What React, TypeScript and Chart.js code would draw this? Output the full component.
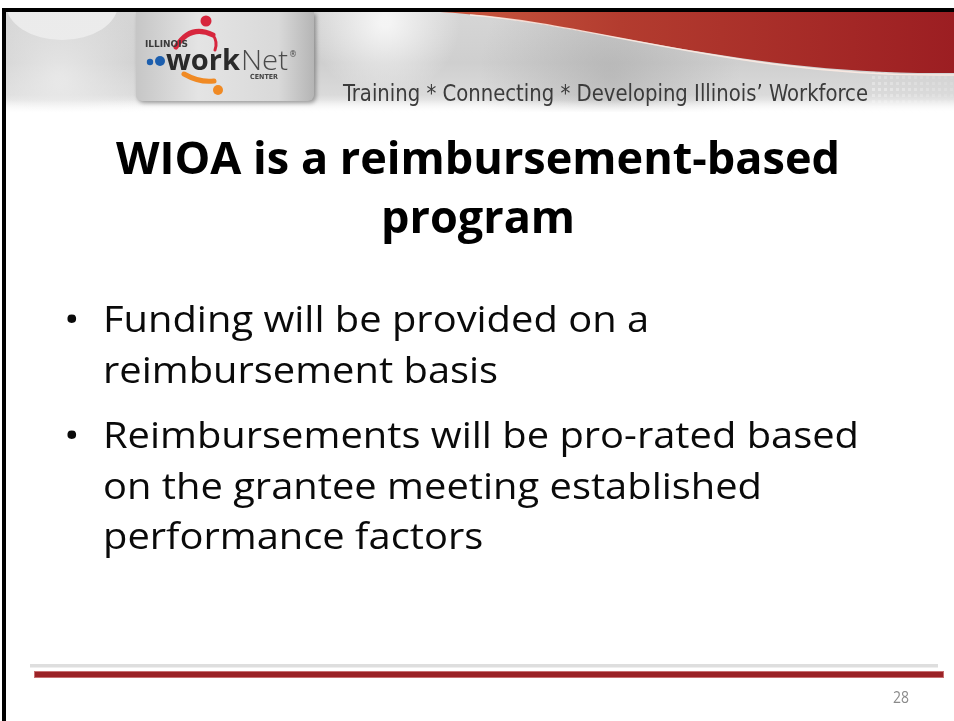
import React, { useEffect, useRef } from "react";
import { Chart, registerables } from "chart.js";

Chart.register(...registerables);

const titleLines = ["WIOA is a reimbursement-based", "program"];
const bulletItems = [
  ["Funding will be provided on a", "reimbursement basis"],
  ["Reimbursements will be pro-rated based", "on the grantee meeting established", "performance factors"],
];
const tagline = "Training * Connecting * Developing Illinois\u2019 Workforce";
const logoWords = ["ILLINOIS", "work", "Net", "CENTER", "\u00AE"];
const pageNumber = "28";

function fitText(ctx: CanvasRenderingContext2D, text: string, x: number, y: number, width: number, align: "left" | "center" = "left") {
  const w = ctx.measureText(text).width;
  const s = width / w;
  ctx.save();
  const x0 = align === "center" ? x - width / 2 : x;
  ctx.translate(x0, y);
  ctx.scale(s, 1);
  ctx.textAlign = "left";
  ctx.fillText(text, 0, 0);
  ctx.restore();
  return s;
}

function drawText(ctx: CanvasRenderingContext2D, text: string, x: number, y: number, s: number, align: "left" | "center" = "left") {
  const w = ctx.measureText(text).width * s;
  ctx.save();
  const x0 = align === "center" ? x - w / 2 : x;
  ctx.translate(x0, y);
  ctx.scale(s, 1);
  ctx.textAlign = "left";
  ctx.fillText(text, 0, 0);
  ctx.restore();
}

const slidePlugin = {
  id: "slide",
  beforeDraw(chart: any) {
    const ctx: CanvasRenderingContext2D = chart.ctx;
    const W = chart.width;
    const H = chart.height;
    ctx.save();
    ctx.fillStyle = "#ffffff";
    ctx.fillRect(0, 0, W, H);

    // header background
    const hx = 5, hy = 12, hw = W - 5, hh = 101;
    let g = ctx.createLinearGradient(0, hy, 0, hy + hh);
    g.addColorStop(0, "#d6d6d6");
    g.addColorStop(0.5, "#cfcfcf");
    g.addColorStop(0.82, "#dadada");
    g.addColorStop(1, "#ffffff");
    ctx.fillStyle = g;
    ctx.fillRect(hx, hy, hw, hh);

    ctx.save();
    ctx.beginPath();
    ctx.rect(hx, hy, hw, hh);
    ctx.clip();
    // light left blob
    ctx.fillStyle = "#ebebeb";
    ctx.beginPath();
    ctx.ellipse(62, 4, 56, 36, 0, 0, Math.PI * 2);
    ctx.fill();
    let rg = ctx.createRadialGradient(60, 80, 5, 60, 80, 90);
    rg.addColorStop(0, "rgba(236,236,236,0.8)");
    rg.addColorStop(1, "rgba(236,236,236,0)");
    ctx.fillStyle = rg;
    ctx.fillRect(hx, hy, 160, 100);
    rg = ctx.createRadialGradient(385, 22, 5, 385, 22, 75);
    rg.addColorStop(0, "rgba(246,246,246,0.95)");
    rg.addColorStop(1, "rgba(246,246,246,0)");
    ctx.fillStyle = rg;
    ctx.fillRect(300, hy, 180, 100);
    rg = ctx.createRadialGradient(610, 75, 5, 610, 75, 130);
    rg.addColorStop(0, "rgba(150,150,150,0.4)");
    rg.addColorStop(1, "rgba(150,150,150,0)");
    ctx.fillStyle = rg;
    ctx.fillRect(470, hy, 280, 100);
    const fade = ctx.createLinearGradient(0, 100, 0, 113);
    fade.addColorStop(0, "rgba(255,255,255,0)");
    fade.addColorStop(1, "rgba(255,255,255,1)");
    ctx.fillStyle = fade;
    ctx.fillRect(hx, 100, hw, 13);

    // dot pattern on right
    for (let yy = 70; yy < 110; yy += 6) {
      for (let xx = 872; xx < 954; xx += 6) {
        const a = 0.4 * (1 - (xx - 872) / 120) * (1 - Math.abs(yy - 88) / 30);
        if (a <= 0) continue;
        ctx.fillStyle = `rgba(255,255,255,${a.toFixed(3)})`;
        ctx.fillRect(xx, yy, 3, 3);
      }
    }

    // red swoosh
    const rgrad = ctx.createLinearGradient(440, 0, W, 0);
    rgrad.addColorStop(0, "#c9583f");
    rgrad.addColorStop(0.35, "#b33c2f");
    rgrad.addColorStop(1, "#9c1e22");
    ctx.fillStyle = rgrad;
    ctx.beginPath();
    ctx.moveTo(440, hy);
    ctx.bezierCurveTo(580, 20, 740, 76, W, 73);
    ctx.lineTo(W, hy);
    ctx.closePath();
    ctx.fill();
    ctx.strokeStyle = "rgba(255,236,228,0.85)";
    ctx.lineWidth = 1.5;
    ctx.beginPath();
    ctx.moveTo(470, hy + 3);
    ctx.bezierCurveTo(590, 23, 745, 78, W, 75);
    ctx.stroke();
    ctx.restore();

    // logo box
    ctx.save();
    ctx.shadowColor = "rgba(0,0,0,0.35)";
    ctx.shadowBlur = 4;
    ctx.shadowOffsetX = 2;
    ctx.shadowOffsetY = 2;
    const lg = ctx.createLinearGradient(136, 0, 314, 0);
    lg.addColorStop(0, "#c6c6c6");
    lg.addColorStop(0.35, "#e4e4e4");
    lg.addColorStop(0.8, "#d9d9d9");
    lg.addColorStop(1, "#b5b5b5");
    ctx.fillStyle = lg;
    ctx.beginPath();
    (ctx as any).roundRect(136, 12, 178, 89, [0, 0, 6, 6]);
    ctx.fill();
    ctx.restore();

    // logo figures
    ctx.fillStyle = "#d7263d";
    ctx.beginPath();
    ctx.arc(206, 21, 5.5, 0, Math.PI * 2);
    ctx.fill();
    ctx.strokeStyle = "#d7263d";
    ctx.lineWidth = 5;
    ctx.lineCap = "round";
    ctx.beginPath();
    ctx.moveTo(176, 47);
    ctx.quadraticCurveTo(190, 24, 213, 35);
    ctx.stroke();
    ctx.lineWidth = 3;
    ctx.beginPath();
    ctx.moveTo(213, 35);
    ctx.quadraticCurveTo(218, 42, 215, 50);
    ctx.stroke();

    ctx.fillStyle = "#1d5fae";
    ctx.beginPath();
    ctx.arc(150, 62, 3.2, 0, Math.PI * 2);
    ctx.fill();
    ctx.beginPath();
    ctx.arc(160, 61, 5, 0, Math.PI * 2);
    ctx.fill();

    ctx.strokeStyle = "#f08a24";
    ctx.lineWidth = 5;
    ctx.beginPath();
    ctx.moveTo(184, 74);
    ctx.quadraticCurveTo(200, 83, 214, 81);
    ctx.stroke();
    ctx.fillStyle = "#f08a24";
    ctx.beginPath();
    ctx.arc(218, 90, 5, 0, Math.PI * 2);
    ctx.fill();

    ctx.textBaseline = "alphabetic";
    ctx.fillStyle = "#3a3a3a";
    ctx.font = 'bold 9px "DejaVu Sans", sans-serif';
    fitText(ctx, logoWords[0], 145, 47, 43);
    ctx.fillStyle = "#2a2a2a";
    ctx.font = 'bold 28px "Open Sans", "Noto Sans", sans-serif';
    fitText(ctx, logoWords[1], 166, 70, 74);
    ctx.fillStyle = "#4a4a4a";
    ctx.font = '300 28px "Open Sans", "Noto Sans", sans-serif';
    fitText(ctx, logoWords[2], 241, 70, 47);
    ctx.font = '8px "DejaVu Sans", sans-serif';
    ctx.fillText(logoWords[4], 289, 57);
    ctx.fillStyle = "#444444";
    ctx.font = 'bold 7px "DejaVu Sans", sans-serif';
    fitText(ctx, logoWords[3], 250, 79, 28);

    // tagline
    ctx.fillStyle = "#3b3b3b";
    ctx.font = '23px "Liberation Sans Narrow", "DejaVu Sans Condensed", "Open Sans", sans-serif';
    fitText(ctx, tagline, 343, 101, 525);

    // title
    ctx.fillStyle = "#000000";
    ctx.font = 'bold 45px "Open Sans", "Noto Sans", sans-serif';
    const ts = fitText(ctx, titleLines[0], 478, 174, 724, "center");
    drawText(ctx, titleLines[1], 478, 233, ts, "center");

    // bullets
    ctx.fillStyle = "#0a0a0a";
    ctx.font = '36px "Open Sans", "Noto Sans", sans-serif';
    const ref = bulletItems[1][0];
    const bs = 756 / ctx.measureText(ref).width;
    const baselines = [[332, 383], [448, 499, 549]];
    bulletItems.forEach((lines, i) => {
      drawText(ctx, "\u2022", 64, baselines[i][0], 1.15);
      lines.forEach((ln, j) => drawText(ctx, ln, 103, baselines[i][j], bs));
    });

    // footer lines
    ctx.fillStyle = "#dedede";
    ctx.fillRect(30, 664, 908, 3.5);
    ctx.fillStyle = "#9b2226";
    ctx.fillRect(34, 671, 910, 7);
    ctx.strokeStyle = "rgba(205,120,122,0.9)";
    ctx.lineWidth = 1;
    ctx.strokeRect(34.5, 671.5, 909, 6);

    ctx.fillStyle = "#8a8a8a";
    ctx.font = '16px "Open Sans", "Noto Sans", sans-serif';
    fitText(ctx, pageNumber, 893, 703, 16);

    // black border
    ctx.fillStyle = "#000000";
    ctx.fillRect(2, 8, W - 2, 4);
    ctx.fillRect(2, 8, 4, H - 8);
    ctx.restore();
  },
};

export default function App() {
  const ref = useRef<HTMLCanvasElement | null>(null);
  useEffect(() => {
    if (!ref.current) return;
    const chart = new Chart(ref.current, {
      type: "scatter",
      data: { datasets: [] },
      options: {
        animation: false,
        responsive: false,
        devicePixelRatio: 1,
        events: [],
        plugins: { legend: { display: false }, tooltip: { enabled: false }, title: { display: false } },
        scales: { x: { display: false }, y: { display: false } },
      },
      plugins: [slidePlugin],
    });
    return () => chart.destroy();
  }, []);
  return (
    <div style={{ position: "absolute", left: 0, top: 0, width: 954, height: 721, background: "#fff" }}>
      <canvas ref={ref} width={954} height={721} style={{ display: "block" }} />
    </div>
  );
}
